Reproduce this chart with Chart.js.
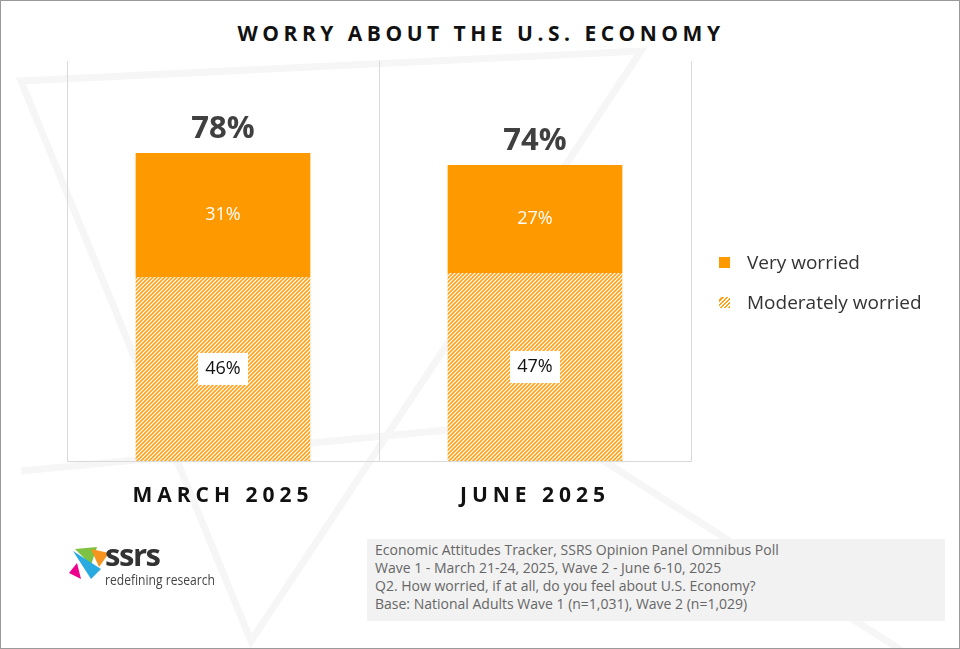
<!DOCTYPE html>
<html>
<head>
<meta charset="utf-8">
<script src="https://cdn.jsdelivr.net/npm/chart.js@4"></script>
<style>
  body { margin: 0; background: #fff; font-family: "Open Sans", "Noto Sans", sans-serif; }
  #wrap { position: relative; width: 958px; height: 647px; border: 1px solid #9a9a9a; overflow: hidden; }
  #bg { position: absolute; left: 0; top: 0; }
  #title { position: absolute; top: 18px; left: 0; width: 960px; text-align: center; font-weight: bold; font-size: 21px; letter-spacing: 4.5px; color: #111; }
  canvas#chart { position: absolute; left: 0; top: 0; }
  .leg { position: absolute; left: 718px; font-size: 19px; color: #333; }
  .sw { display: inline-block; width: 11px; height: 11px; margin-right: 17px; vertical-align: 1px; }
  #note { position: absolute; left: 366px; top: 538px; width: 578px; height: 82px; background: #f2f2f2; color: #666; font-size: 14px; line-height: 18px; padding: 2px 8px; box-sizing: border-box; }
  #logo { position: absolute; left: 68px; top: 542px; }
</style>
</head>
<body>
<div id="wrap">
  <svg id="bg" width="960" height="649">
    <g stroke="#f6f6f6" stroke-width="7" fill="none">
      <path d="M20 80 L640 50 L250 640 Z"/>
      <path d="M20 470 L540 420 L900 649"/>
    </g>
  </svg>
  <div id="title">WORRY ABOUT THE U.S. ECONOMY</div>
  <canvas id="chart" width="960" height="649"></canvas>
  <div class="leg" style="top:248px"><span class="sw" style="background:#ff9900"></span>Very worried</div>
  <div class="leg" style="top:288px"><span class="sw" id="sw2"></span>Moderately worried</div>
  <svg id="logo" width="160" height="50">
    <polygon points="6,6 28,4 22,22" fill="#7dc242"/>
    <polygon points="22,6 40,10 30,24" fill="#f7941d"/>
    <polygon points="4,8 32,26 22,36" fill="#29abe2"/>
    <polygon points="0,30 8,20 12,36" fill="#ec008c"/>
    <text x="36" y="23" font-size="31" font-weight="bold" fill="#333" font-family="Open Sans" textLength="56">ssrs</text>
    <text x="36" y="42" font-size="14" fill="#444" font-family="Open Sans" textLength="110" lengthAdjust="spacingAndGlyphs">redefining research</text>
  </svg>
  <div id="note">Economic Attitudes Tracker, SSRS Opinion Panel Omnibus Poll<br>Wave 1 - March 21-24, 2025, Wave 2 - June 6-10, 2025<br>Q2. How worried, if at all, do you feel about U.S. Economy?<br>Base: National Adults Wave 1 (n=1,031), Wave 2 (n=1,029)</div>
</div>
<script>
const waves = ["MARCH 2025", "JUNE 2025"];
const moderately = [46, 47];
const very = [31, 27];
const totals = [78, 74];

function hatch() {
    const c = document.createElement("canvas");
    c.width = 4; c.height = 4;
    const x = c.getContext("2d");
    x.fillStyle = "#fff"; x.fillRect(0, 0, 4, 4);
    x.strokeStyle = "#ffa21a"; x.lineWidth = 1.6;
    x.beginPath(); x.moveTo(-1, 5); x.lineTo(5, -1); x.moveTo(-1, 1); x.lineTo(1, -1); x.moveTo(3, 5); x.lineTo(5, 3); x.stroke();
    return x.createPattern(c, "repeat");
}
document.getElementById("sw2").style.background = "repeating-linear-gradient(-45deg,#ffa21a 0 1.5px,#fff 1.5px 3px)";

const spacing = {
    id: "spacing",
    beforeDraw(chart) { chart.ctx.letterSpacing = "5px"; },
    beforeDatasetsDraw(chart) { chart.ctx.letterSpacing = "0px"; },
};

const labelsPlugin = {
    id: "labels",
    afterDatasetsDraw(chart) {
        const ctx = chart.ctx;
        ctx.save();
        ctx.textAlign = "center";
        ctx.textBaseline = "middle";
        chart.getDatasetMeta(0).data.forEach((bar, i) => {
            const cy = (bar.y + bar.base) / 2;
            ctx.fillStyle = "#fff";
            ctx.fillRect(bar.x - 25, cy - 16, 50, 32);
            ctx.fillStyle = "#111";
            ctx.font = "18px 'Open Sans'";
            ctx.fillText(moderately[i] + "%", bar.x, cy);
        });
        chart.getDatasetMeta(1).data.forEach((bar, i) => {
            ctx.fillStyle = "#fff";
            ctx.font = "18px 'Open Sans'";
            ctx.fillText(very[i] + "%", bar.x, (bar.y + bar.base) / 2);
            ctx.fillStyle = "#404040";
            ctx.font = "bold 31px 'Open Sans'";
            ctx.fillText(totals[i] + "%", bar.x, bar.y - 24);
        });
        ctx.restore();
    },
};

new Chart(document.getElementById("chart"), {
    type: "bar",
    data: {
        labels: waves,
        datasets: [
            { label: "Moderately worried", data: moderately, backgroundColor: hatch() },
            { label: "Very worried", data: very, backgroundColor: "#ff9900" },
        ],
    },
    options: {
        responsive: false,
        animation: false,
        layout: { padding: { left: 66, right: 270, top: 60, bottom: 0 } },
        datasets: { bar: { categoryPercentage: 0.56, barPercentage: 1 } },
        plugins: { legend: { display: false }, tooltip: { enabled: false } },
        scales: {
            x: {
                stacked: true,
                grid: { color: "#d9d9d9", offset: true, drawTicks: false },
                border: { color: "#d9d9d9" },
                ticks: { color: "#111", font: { size: 21, weight: "bold", family: "Open Sans" }, padding: 22 },
                afterFit(s) { s.height = 189; },
            },
            y: { stacked: true, display: false, min: 0, max: 100 },
        },
    },
    plugins: [spacing, labelsPlugin],
});
</script>
</body>
</html>
